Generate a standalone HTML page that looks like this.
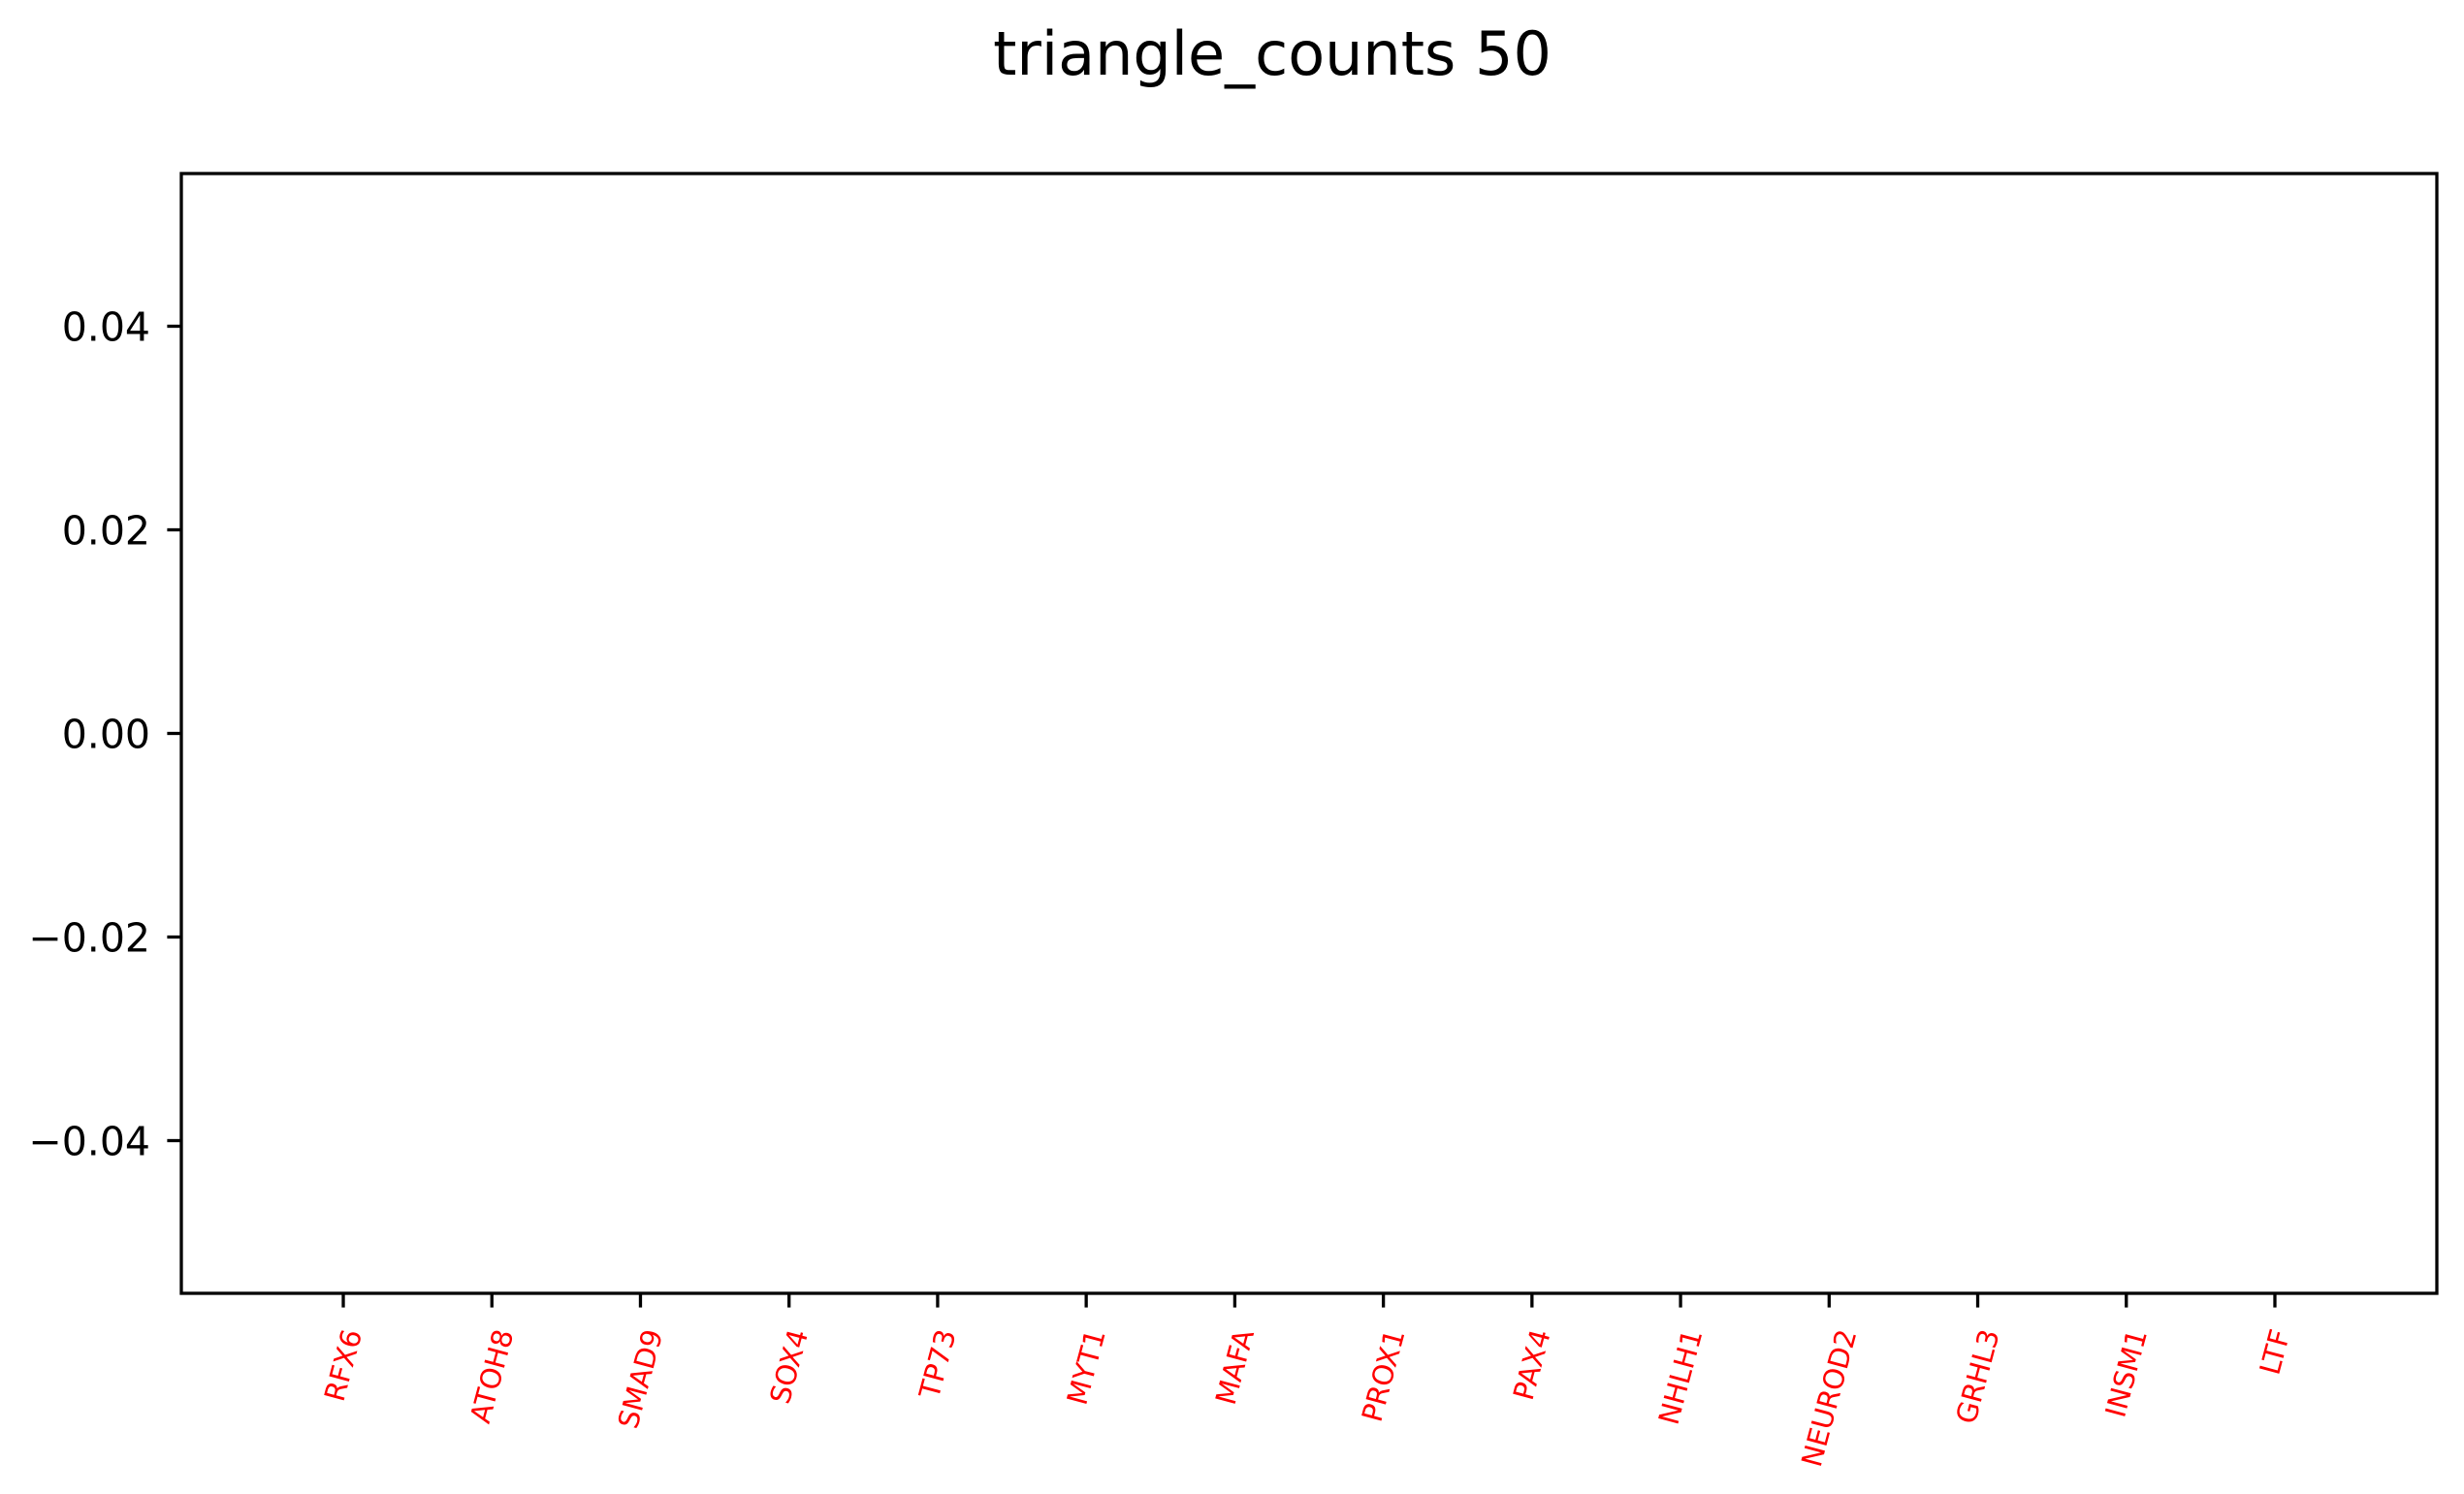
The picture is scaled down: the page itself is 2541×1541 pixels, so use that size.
<!DOCTYPE html>
<html><head><meta charset="utf-8"><style>
html,body{margin:0;padding:0;background:#fff;}
svg{display:block;font-family:"DejaVu Sans","Liberation Sans",sans-serif;}
</style></head><body>
<svg id="chart" width="2541" height="1541" viewBox="0 0 2541 1541">
<rect width="2541" height="1541" fill="#fff"/>
<text x="1312" y="77" font-size="62" text-anchor="middle" fill="#000">triangle_counts 50</text>
<g id="yticks"></g>
<g id="xticks"></g>
<rect x="187" y="179" width="2326" height="1155" fill="none" stroke="#000" stroke-width="3.3"/>
</svg>
<script>
const categories = ["RFX6","ATOH8","SMAD9","SOX4","TP73","MYT1","MAFA","PROX1","PAX4","NHLH1","NEUROD2","GRHL3","INSM1","LTF"];
const values = [0,0,0,0,0,0,0,0,0,0,0,0,0,0];
const yTickValues = [0.04,0.02,0.00,-0.02,-0.04];
const yTickLabels = ["0.04","0.02","0.00","\u22120.02","\u22120.04"];
const NS="http://www.w3.org/2000/svg";
const L=187,R=2513,T=179,B=1334;
const xMin=-1.09,xMax=14.09,yMin=-0.055,yMax=0.055;
function xs(i){return L+(i-xMin)/(xMax-xMin)*(R-L);}
function ys(v){return B-(v-yMin)/(yMax-yMin)*(B-T);}
const yg=document.getElementById('yticks');
yTickValues.forEach((v,i)=>{
  const y=ys(v);
  const ln=document.createElementNS(NS,'line');
  
  
  ln.setAttribute('x1',L-14.6);ln.setAttribute('x2',L);ln.setAttribute('y1',y);ln.setAttribute('y2',y);
  ln.setAttribute('stroke','#000');ln.setAttribute('stroke-width','3.3');
  yg.appendChild(ln);
  const t=document.createElementNS(NS,'text');
  
  
  t.setAttribute('x',L-32);t.setAttribute('y',y+15);
  t.setAttribute('font-size','41');t.setAttribute('text-anchor','end');
  t.textContent=yTickLabels[i];
  yg.appendChild(t);
});
const xg=document.getElementById('xticks');
categories.forEach((c,i)=>{
  const x=xs(i);
  const ln=document.createElementNS(NS,'line');
  
  
  ln.setAttribute('x1',x);ln.setAttribute('x2',x);ln.setAttribute('y1',B);ln.setAttribute('y2',B+14.6);
  ln.setAttribute('stroke','#000');ln.setAttribute('stroke-width','3.3');
  xg.appendChild(ln);
  const t=document.createElementNS(NS,'text');
  
  
  t.setAttribute('font-size','29');t.setAttribute('fill','#ff0000');
  t.setAttribute('text-anchor','end');t.setAttribute('dominant-baseline','central');
  t.textContent=c;
  xg.appendChild(t);
  const len=t.getComputedTextLength();
  const px=x+0.129*len, py=B+38;
  t.setAttribute('transform','translate('+px+','+py+') rotate(-75)');
  const h=Math.abs(ys(values[i])-ys(0));
  if(h>0){
    const r=document.createElementNS(NS,'rect');
    
    
    r.setAttribute('x',x-60);r.setAttribute('width',120);
    r.setAttribute('y',Math.min(ys(values[i]),ys(0)));r.setAttribute('height',h);
    r.setAttribute('fill','#1f77b4');
    xg.appendChild(r);
  }
});
</script>
</body></html>
